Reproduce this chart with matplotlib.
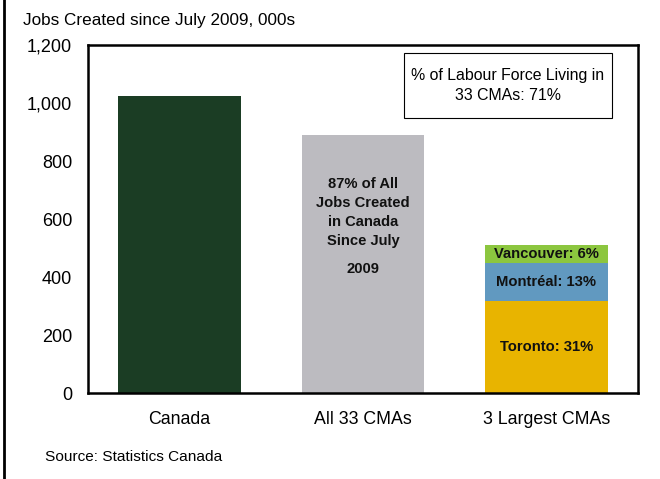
import matplotlib
matplotlib.use("Agg")
import matplotlib.pyplot as plt
from matplotlib.lines import Line2D
from matplotlib.patches import Rectangle

plt.rcParams['font.family'] = ['Liberation Sans', 'DejaVu Sans']

categories = ["Canada", "All 33 CMAs", "3 Largest CMAs"]
canada_jobs = 1024
cma_jobs = 891
toronto = 317
montreal = 133
vancouver = 62
segment_labels = ["Toronto: 31%", "Montréal: 13%", "Vancouver: 6%"]
yticks = [0, 200, 400, 600, 800, 1000, 1200]
ytick_labels = ["0", "200", "400", "600", "800", "1,000", "1,200"]

fig = plt.figure(figsize=(6.6, 4.79), dpi=100)
ax = fig.add_axes([88/660, 86/479, 550/660, 348/479])

w = 0.67
ax.bar(0, canada_jobs, width=w, color="#1b3d24")
ax.bar(1, cma_jobs, width=w, color="#bcbbc0")
segs = [toronto, montreal, vancouver]
cols = ["#e8b400", "#6199c0", "#8cc63f"]
base = 0
for val, col, lab in zip(segs, cols, segment_labels):
    ax.bar(2, val, bottom=base, width=w, color=col)
    ax.text(2, base + val / 2, lab, ha="center", va="center",
            fontsize=10.6, fontweight="bold", color="#111111")
    base += val

ax.text(1, 621, "87% of All\nJobs Created\nin Canada\nSince July",
        ha="center", va="center", fontsize=10.6, fontweight="bold",
        linespacing=1.45, color="#111111")
ax.text(1, 428, "2009", ha="center", va="center", fontsize=10.6,
        fontweight="bold", color="#111111")

ax.set_xlim(-0.5, 2.5)
ax.set_ylim(0, 1200)
ax.set_yticks(yticks)
ax.set_yticklabels(ytick_labels)
ax.set_xticks(range(len(categories)))
ax.set_xticklabels(categories)
ax.tick_params(axis="y", length=0, pad=11.5, labelsize=13)
ax.tick_params(axis="x", length=0, pad=13, labelsize=12.8)
for sp in ax.spines.values():
    sp.set_linewidth(1.8)

# note box
ax.add_patch(Rectangle((0.5745, 0.79), 0.378, 0.187, transform=ax.transAxes,
                       fill=False, edgecolor="black", linewidth=0.8))
ax.text(0.7636, 0.8835, "% of Labour Force Living in\n33 CMAs: 71%",
        transform=ax.transAxes, ha="center", va="center", fontsize=11.4,
        linespacing=1.45)

fig.text(23/660, 1 - 20/479, "Jobs Created since July 2009, 000s",
         ha="left", va="center", fontsize=12.3)
fig.text(45/660, 1 - 457/479, "Source: Statistics Canada",
         ha="left", va="center", fontsize=11.1)

fig.add_artist(Line2D([4/660, 4/660], [0, 1], transform=fig.transFigure,
                      color="black", linewidth=2))

fig.savefig("out.png", dpi=100)
